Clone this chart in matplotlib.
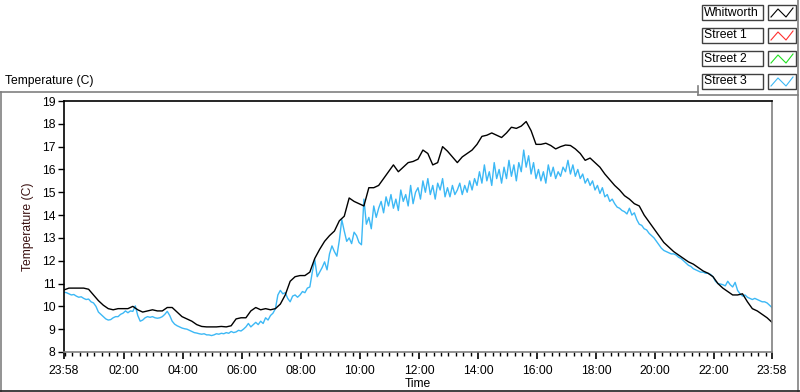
import numpy as np
import matplotlib
matplotlib.use("Agg")
import matplotlib.pyplot as plt
from matplotlib.lines import Line2D
from matplotlib.patches import Rectangle

# Data: hours since 23:58, Whitworth every 10 min, Street 3 every 5 min
whitworth = [
    10.72, 10.8, 10.8, 10.8, 10.8, 10.75,
    10.5, 10.25, 10.05, 9.9, 9.85, 9.9,
    9.9, 9.9, 10.0, 9.85, 9.75, 9.8,
    9.85, 9.8, 9.8, 9.95, 9.95, 9.75,
    9.55, 9.45, 9.35, 9.2, 9.12, 9.1,
    9.1, 9.1, 9.12, 9.1, 9.15, 9.45,
    9.5, 9.5, 9.8, 9.95, 9.85, 9.9,
    9.85, 9.9, 10.1, 10.5, 11.1, 11.3,
    11.35, 11.35, 11.5, 12.1, 12.5, 12.85,
    13.1, 13.3, 13.75, 13.95, 14.75, 14.6,
    14.5, 14.4, 15.2, 15.2, 15.3, 15.6,
    15.9, 16.2, 15.9, 16.1, 16.3, 16.35,
    16.45, 16.85, 16.7, 16.2, 16.3, 17.0,
    16.8, 16.55, 16.3, 16.55, 16.7, 16.85,
    17.1, 17.45, 17.5, 17.6, 17.5, 17.4,
    17.6, 17.85, 17.8, 17.9, 18.1, 17.7,
    17.1, 17.1, 17.15, 17.05, 16.9, 17.0,
    17.07, 17.05, 16.9, 16.7, 16.4, 16.5,
    16.3, 16.1, 15.8, 15.55, 15.3, 15.1,
    14.85, 14.7, 14.5, 14.4, 14.0, 13.7,
    13.4, 13.1, 12.8, 12.6, 12.4, 12.25,
    12.1, 11.95, 11.85, 11.7, 11.55, 11.45,
    11.3, 11.0, 10.8, 10.65, 10.5, 10.5,
    10.55, 10.2, 9.9, 9.8, 9.65, 9.5,
    9.3,
]

street3 = [
    10.62, 10.6, 10.55, 10.5, 10.52, 10.45, 10.4, 10.42, 10.35, 10.3, 10.32, 10.2,
    10.15, 10.0, 9.75, 9.65, 9.55, 9.45, 9.4, 9.42, 9.5, 9.55, 9.55, 9.65,
    9.7, 9.8, 9.72, 9.8, 9.78, 10.02, 9.6, 9.35, 9.4, 9.5, 9.55, 9.52,
    9.55, 9.5, 9.48, 9.5, 9.55, 9.65, 9.78, 9.6, 9.35, 9.22, 9.15, 9.1,
    9.05, 9.02, 9.0, 8.95, 8.9, 8.85, 8.83, 8.8, 8.78, 8.8, 8.75, 8.75,
    8.72, 8.75, 8.8, 8.78, 8.82, 8.8, 8.85, 8.82, 8.9, 8.85, 8.88, 8.95,
    8.92, 9.0, 9.1, 9.25, 9.1, 9.2, 9.3, 9.2, 9.35, 9.25, 9.5, 9.4,
    9.6, 9.7, 9.9, 10.5, 10.7, 10.55, 10.6, 10.35, 10.2, 10.45, 10.5, 10.4,
    10.5, 10.65, 10.6, 10.8, 10.85, 11.5, 12.05, 11.3, 11.5, 11.7, 11.95, 11.6,
    12.3, 12.65, 12.4, 12.2, 12.9, 13.8, 13.3, 12.85, 13.0, 12.75, 13.25, 13.1,
    12.8, 12.7, 14.7, 13.6, 13.9, 13.4, 14.4, 13.9, 14.3, 14.6, 14.1, 14.8,
    14.4, 14.9, 14.3, 14.7, 14.2, 15.1, 14.6, 14.9, 14.4, 15.3, 14.5, 15.0,
    15.2, 14.7, 15.5, 15.0, 15.6, 14.9, 15.3, 14.7, 15.4, 15.1, 15.6, 14.8,
    15.2, 14.8, 15.3, 14.9, 15.1, 15.4, 14.9, 15.3, 15.0, 15.5, 15.1, 15.6,
    15.3, 15.9, 15.4, 16.2, 15.5, 15.9, 15.3, 16.3, 15.6, 16.0, 15.4, 16.1,
    15.6, 16.4, 15.7, 16.2, 15.5, 16.3, 15.9, 16.85, 16.1, 16.6, 15.8, 16.3,
    15.6, 16.0, 15.5, 15.9, 15.4, 16.2, 15.7, 16.1, 15.6, 15.9, 15.7, 16.1,
    15.9, 16.4, 15.8, 16.2, 15.7, 16.0, 15.6, 15.8, 15.4, 15.6, 15.3, 15.5,
    15.1, 15.3, 14.95, 15.2, 14.8, 14.9, 14.6, 14.7, 14.5, 14.35, 14.3, 14.2,
    14.15, 14.05, 14.3, 14.0, 14.1, 13.8, 13.6, 13.55, 13.4, 13.35, 13.2, 13.1,
    13.0, 12.85, 12.7, 12.55, 12.45, 12.4, 12.35, 12.3, 12.3, 12.25, 12.15, 12.1,
    12.0, 11.9, 11.8, 11.75, 11.65, 11.6, 11.55, 11.5, 11.5, 11.45, 11.45, 11.4,
    11.3, 11.1, 11.0, 10.98, 10.95, 10.9, 11.1, 10.95, 10.85, 11.05, 10.7, 10.55,
    10.45, 10.5, 10.4, 10.35, 10.3, 10.35, 10.3, 10.25, 10.2, 10.2, 10.15, 10.05, 9.95,
]

series_names = ["Whitworth", "Street 1", "Street 2", "Street 3"]
series_colors = ["#000000", "#ff3030", "#20e020", "#3cb8f5"]
x_tick_labels = ["23:58", "02:00", "04:00", "06:00", "08:00", "10:00", "12:00",
                 "14:00", "16:00", "18:00", "20:00", "22:00", "23:58"]

W, H = 800, 392


def fx(x):
    return x / W


def fy(y):
    return 1 - y / H


plt.rcParams['font.family'] = ['Liberation Sans', 'DejaVu Sans']
fs = 8.7

fig = plt.figure(figsize=(8, 3.92), dpi=100)
ax = fig.add_axes([fx(64), fy(352), fx(772) - fx(64), fy(101) - fy(352)])

t_w = np.linspace(0, 24, len(whitworth))
t_s = np.linspace(0, 24, len(street3))
ax.plot(t_s, street3, color=series_colors[3], lw=1)
ax.plot(t_w, whitworth, color=series_colors[0], lw=1)

ax.set_xlim(0, 24)
ax.set_ylim(8, 19)
ax.set_yticks(range(8, 20))
ax.tick_params(axis='y', labelsize=fs, length=4, width=1, pad=2)

off = 2 / 60
major = [0] + [off + 2 * k for k in range(1, 12)] + [24]
ax.set_xticks(major)
ax.set_xticklabels(x_tick_labels)
minor = [off + 0.25 * k for k in range(96) if (off + 0.25 * k) < 24]
ax.set_xticks(minor, minor=True)
ax.tick_params(axis='x', which='major', labelsize=fs, length=5, width=1.2, pad=4)
ax.tick_params(axis='x', which='minor', length=3, width=1)

ax.spines['left'].set_color('black')
ax.spines['top'].set_color('black')
ax.spines['right'].set_color('#808080')
ax.spines['bottom'].set_color('#808080')
for s in ax.spines.values():
    s.set_linewidth(1.2)

ax.set_xlabel("Time", fontsize=fs, labelpad=1)
ax.set_ylabel("Temperature (C)", fontsize=fs, color='#3a1010', labelpad=6)

# panel frame
frame = [
    ([0, 698], [92, 92], '#808080'),
    ([698, 698], [86, 95], '#808080'),
    ([698, 798], [95, 95], '#808080'),
    ([798, 798], [0, 392], '#808080'),
    ([1, 1], [92, 392], '#808080'),
    ([0, 800], [390.5, 390.5], '#202020'),
]
for xs, ys, c in frame:
    fig.add_artist(Line2D([fx(v) for v in xs], [fy(v) for v in ys], color=c, lw=1.2))

fig.text(fx(5), fy(81), "Temperature (C)", fontsize=fs, va='center', ha='left')

# legend
rows = [5, 28, 51, 74]
for name, col, y0 in zip(series_names, series_colors, rows):
    fig.add_artist(Rectangle((fx(702), fy(y0 + 15)), fx(763) - fx(702), fy(y0) - fy(y0 + 15),
                             facecolor='white', edgecolor='#404040', lw=1))
    fig.text(fx(704), fy(y0 + 7.5), name, fontsize=8.8, va='center', ha='left')
    fig.add_artist(Rectangle((fx(768), fy(y0 + 15)), fx(796) - fx(768), fy(y0) - fy(y0 + 15),
                             facecolor='white', edgecolor='#404040', lw=1))
    zx = [771, 778, 786, 793]
    zy = [y0 + 12, y0 + 4, y0 + 12, y0 + 3]
    fig.add_artist(Line2D([fx(v) for v in zx], [fy(v) for v in zy], color=col, lw=0.8))

fig.savefig("out.png", dpi=100)
